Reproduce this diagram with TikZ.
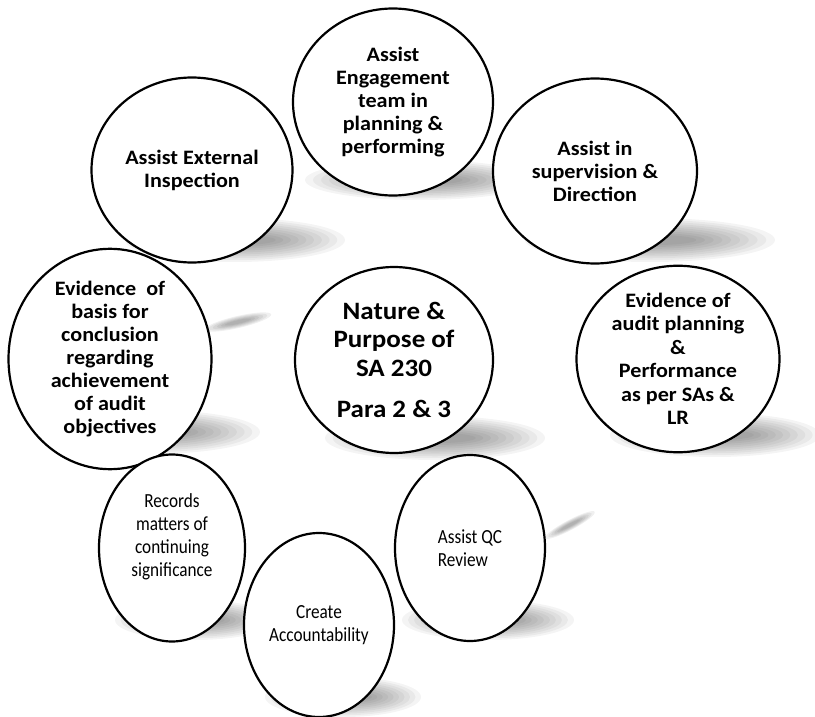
\documentclass[tikz,border=0pt]{standalone}
\usepackage{fontspec}
\setmainfont{Carlito}
\newfontfamily\boldwide[FakeStretch=1.08]{Carlito Bold}
\newfontfamily\narrowreg[FakeStretch=0.86]{Carlito}
\usetikzlibrary{shapes.geometric}
\newcommand\shad[4]{%
  \foreach \k in {0,...,9}{%
    \fill[black,opacity=0.045] (#1,#2) ellipse ({#3*(1-0.07*\k)} and {#4*(1-0.085*\k)});
  }}
\newcommand\streak[5]{%
  \foreach \k in {0,...,5}{%
    \fill[black,opacity=0.06,rotate around={#5:(#1,#2)}] (#1,#2) ellipse ({#3*(1-0.12*\k)} and {#4*(1-0.14*\k)});
  }}
\tikzset{
  bub/.style={draw=black, line width=2.2pt, fill=white, ellipse, inner sep=0pt, align=center},
  upfont/.style={font=\boldwide\fontsize{20.5}{23}\selectfont},
  midfont/.style={font=\boldwide\fontsize{25}{28.5}\selectfont},
  lowfont/.style={font=\narrowreg\fontsize{20}{23}\selectfont},
}
\begin{document}
\begin{tikzpicture}[x=1pt,y=-1pt]
\useasboundingbox (0,0) rectangle (815,717);
% shadows
\shad{420}{180}{115}{20}
\shad{235}{240}{110}{22}
\shad{650}{240}{125}{22}
\shad{435}{438}{110}{22}
\shad{150}{432}{110}{22}
\shad{715}{435}{105}{22}
\shad{195}{620}{80}{20}
\shad{488}{620}{86}{20}
\shad{343}{697}{78}{20}
\streak{238}{322}{34}{6}{13}
\streak{570}{525}{28}{5}{28}
% circles
\node[bub, upfont, minimum width=200pt, minimum height=187pt] (top) at (393,102)
  {Assist\\Engagement\\team in\\planning \&\\performing};
\node[bub, upfont, minimum width=201pt, minimum height=185pt] (ext) at (192,170)
  {Assist External\\Inspection};
\node[bub, upfont, minimum width=204pt, minimum height=185pt] (sup) at (595,171)
  {Assist in\\supervision \&\\Direction};
\node[bub, midfont, minimum width=198pt, minimum height=186pt] (mid) at (394,360)
  {Nature \&\\Purpose of\\SA 230\\[13pt]Para 2 \& 3};
\node[bub, upfont, minimum width=203pt, minimum height=185pt] (basis) at (110,359)
  {Evidence~~of\\basis for\\conclusion\\regarding\\achievement\\of audit\\objectives};
\node[bub, upfont, font=\boldwide\fontsize{20.5}{23.5}\selectfont, minimum width=203pt, minimum height=185pt] (plan) at (678,359)
  {Evidence of\\audit planning\\\&\\Performance\\as per SAs \&\\LR};
\node[bub, minimum width=146pt, minimum height=187pt] (rec) at (172,548) {};
\node[lowfont, align=center] (rectext) at ([yshift=11pt]rec.center)
  {Records\\matters of\\continuing\\significance};
\node[bub, minimum width=150pt, minimum height=186pt] (qc) at (470,548) {};
\node[lowfont, align=left] (qctext) at (qc.center) {Assist QC\\Review};
\node[bub, lowfont, minimum width=150pt, minimum height=184pt] (acc) at (319,625)
  {Create\\Accountability};
\end{tikzpicture}
\end{document}
